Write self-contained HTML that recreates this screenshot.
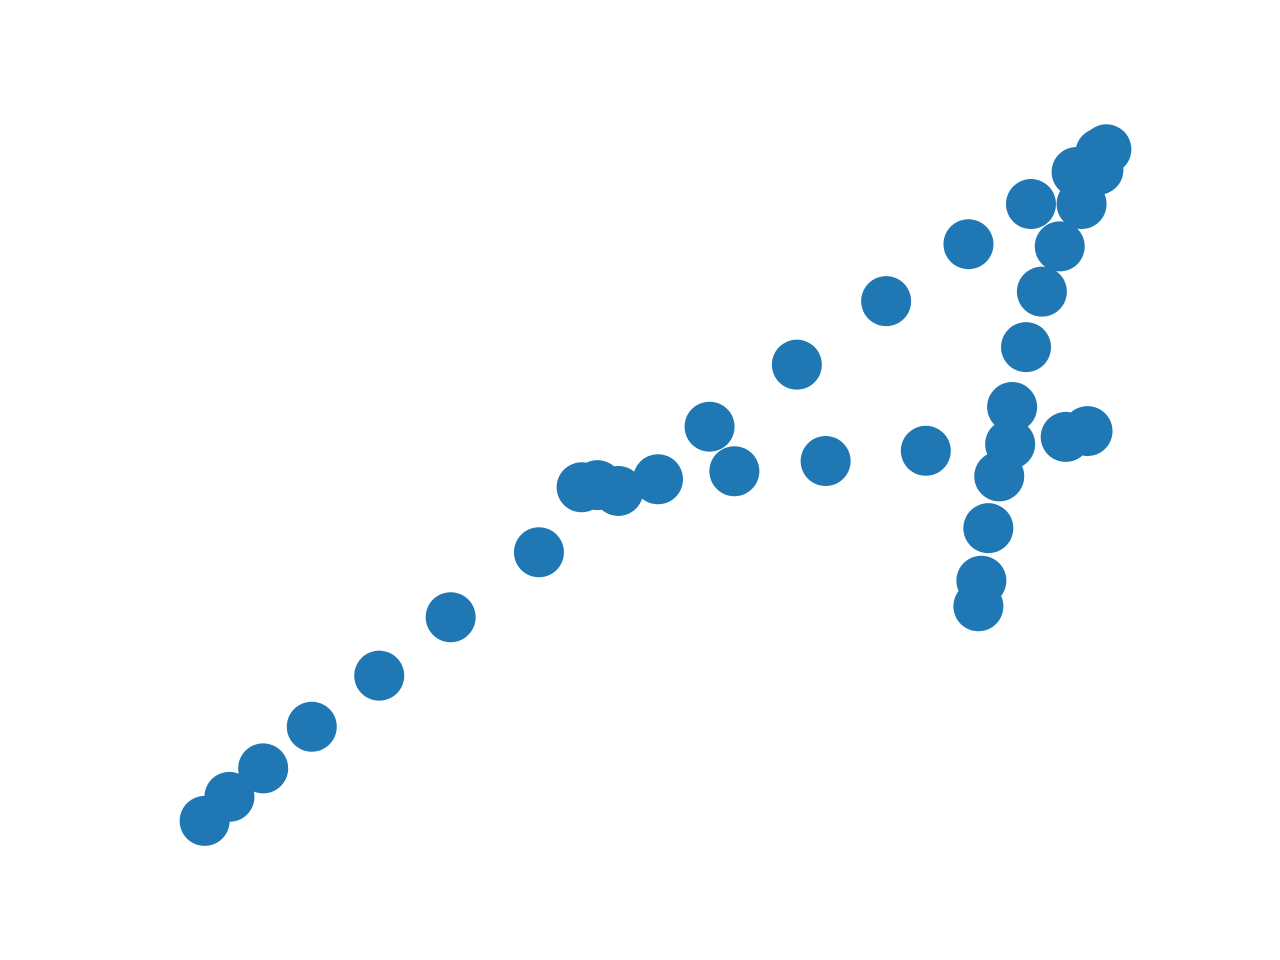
<!DOCTYPE html>
<html>
<head>
<meta charset="utf-8">
<style>
  html,body{margin:0;padding:0;background:#fff;}
  svg{display:block;}
</style>
</head>
<body>
<svg id="chart" width="1280" height="960" viewBox="0 0 1280 960">
  <rect width="1280" height="960" fill="#ffffff"></rect>
  <g id="points"></g>
</svg>
<script>
const xs = [4.5,7.0,10.4,15.3,22.1,29.3,38.2,42.5,44.1,46.2,50.2,55.4,57.9,64.2,67.1,73.2,77.2,81.5,82.5,82.8,83.5,84.6,85.7,85.9,87.3,87.8,88.9,90.7,91.3,92.9,93.5,92.4,94.6,94.8,95.4];
const ys = [3.3,6.6,10.5,16.2,23.2,31.2,40.1,49.0,49.3,48.5,50.1,57.3,51.2,65.8,52.6,74.5,54.0,82.3,32.7,36.2,43.4,50.5,54.9,60.0,68.2,87.8,75.8,82.0,55.9,87.8,56.7,92.2,92.5,94.8,95.3];
const xDomain = [0,100];
const yDomain = [0,100];

const plot = {left:160, right:1152, top:115, bottom:845};
function xScale(v){ return plot.left + (v - xDomain[0]) / (xDomain[1]-xDomain[0]) * (plot.right-plot.left); }
function yScale(v){ return plot.bottom - (v - yDomain[0]) / (yDomain[1]-yDomain[0]) * (plot.bottom-plot.top); }

const g = document.getElementById('points');
const NS = 'http://www.w3.org/2000/svg';
for (let i = 0; i < xs.length; i++) {
  const c = document.createElementNS(NS, 'circle');
  c.setAttribute('cx', xScale(xs[i]));
  c.setAttribute('cy', yScale(ys[i]));
  c.setAttribute('r', 25);
  c.setAttribute('fill', '#1f77b4');
  
  
  g.appendChild(c);
}
</script>
</body>
</html>
